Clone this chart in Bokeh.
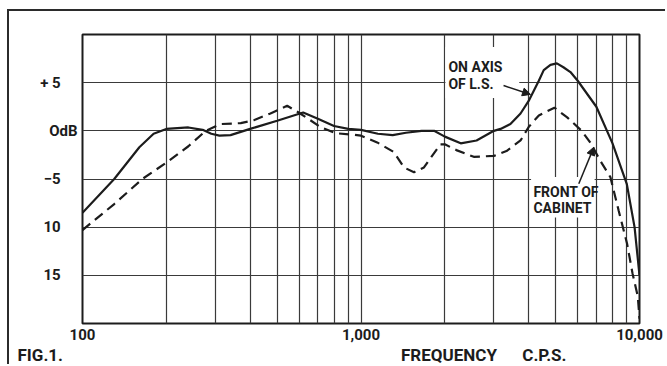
from bokeh.plotting import figure
from bokeh.models import (Range1d, FixedTicker, Label, Arrow, NormalHead, BoxAnnotation, Title)
from bokeh.embed import file_html
from bokeh.resources import INLINE

# ---- data ----
freq_on = [100, 130, 160, 180, 200, 240, 270, 290, 310, 340, 400, 500, 620, 700, 800,
           900, 1000, 1150, 1300, 1450, 1650, 1830, 2000, 2280, 2600, 3000, 3170, 3440,
           3740, 4000, 4350, 4530, 4790, 5050, 5330, 5650, 6000, 7000, 8000, 9000, 9600, 10000]
db_on = [-8.5, -5.0, -1.7, -0.3, 0.2, 0.35, 0.1, -0.3, -0.5, -0.45, 0.2, 1.05, 1.9, 1.25, 0.5,
         0.2, 0.1, -0.3, -0.45, -0.2, 0.0, 0.0, -0.6, -1.3, -1.0, 0.0, 0.2, 0.7,
         1.8, 3.1, 5.2, 6.3, 6.85, 7.0, 6.6, 6.1, 5.2, 2.5, -1.3, -5.5, -10.0, -15.0]

freq_front = [100, 130, 164, 200, 240, 277, 312, 370, 412, 473, 543, 597, 658, 715, 811,
              941, 1000, 1143, 1312, 1426, 1550, 1683, 1800, 1928, 2000, 2200, 2540, 3000,
              3330, 3740, 4000, 4350, 4950, 5500, 6200, 6650, 7230, 7860, 8420, 9020, 9440,
              9860, 10000]
db_front = [-10.3, -7.6, -5.0, -3.3, -1.6, 0.0, 0.7, 0.8, 1.1, 1.8, 2.6, 1.9, 1.1, 0.4, -0.25,
            -0.4, -0.5, -1.2, -2.2, -3.8, -4.3, -3.8, -2.6, -1.4, -1.4, -2.0, -2.7, -2.6,
            -2.1, -1.0, 0.4, 1.6, 2.4, 1.4, 0.0, -1.2, -3.1, -4.8, -8.3, -11.7, -14.8,
            -17.2, -19.5]

grid_freqs = [100, 200, 300, 400, 500, 600, 700, 800, 900,
              1000, 2000, 3000, 4000, 5000, 6000, 7000, 8000, 9000, 10000]
x_ticks = [100, 1000, 10000]
x_tick_labels = ["100", "1,000", "10,000"]
y_ticks = [-15, -10, -5, 0, 5]
y_tick_labels = ["15", "10", "\u22125", "OdB", "+ 5"]
grid_db = [-15, -10, -5, 0, 5]

FONT = "Roboto"
INK = "#1c1c1c"
FIG_SP = "\u2007"   # figure space, keeps short y labels clear of the axis like the original
NBSP = "\u00a0"

p = figure(width=658, height=355, x_axis_type="log",
           x_range=Range1d(100, 10000), y_range=Range1d(-20, 10),
           output_backend="svg", toolbar_location=None, title=None,
           min_border_left=73, min_border_top=23, min_border_right=28, min_border_bottom=43,
           styles={"margin-left": "7px", "margin-top": "9px",
                   "border-left": "2px solid #2b2b2b", "border-top": "2px solid #2b2b2b"})
p.background_fill_color = "white"
p.border_fill_color = "white"
p.outline_line_color = INK
p.outline_line_width = 2

p.xgrid.ticker = FixedTicker(ticks=grid_freqs)
p.ygrid.ticker = FixedTicker(ticks=grid_db)
for g in (p.xgrid, p.ygrid):
    g.grid_line_color = "#3a3a3a"
    g.grid_line_width = 1.2
    g.grid_line_alpha = 1.0

p.xaxis.ticker = FixedTicker(ticks=x_ticks)
p.xaxis.major_label_overrides = {t: l for t, l in zip(x_ticks, x_tick_labels)}
p.yaxis.ticker = FixedTicker(ticks=y_ticks)
p.yaxis.major_label_overrides = {t: (l if l == "OdB" else l + FIG_SP * 2)
                                 for t, l in zip(y_ticks, y_tick_labels)}
for ax in (p.xaxis, p.yaxis):
    ax.axis_line_color = None
    ax.major_tick_line_color = None
    ax.minor_tick_line_color = None
    ax.major_tick_out = 0
    ax.major_tick_in = 0
    ax.major_label_text_font = FONT
    ax.major_label_text_font_style = "bold"
    ax.major_label_text_color = INK
    ax.major_label_text_font_size = "15px"
p.xaxis.major_label_standoff = 5
p.yaxis.major_label_standoff = 5

# bottom caption line: "FIG.1." at left, "FREQUENCY  C.P.S." under the right half
caption = Title(text="FIG.1." + NBSP * 80 + "FREQUENCY" + NBSP * 6 + "C.P.S.",
                align="left", offset=-65, standoff=0,
                text_font=FONT, text_font_style="bold", text_font_size="17px",
                text_color=INK)
p.add_layout(caption, "below")

# white boxes behind annotations
p.add_layout(BoxAnnotation(left=2010, right=3700, top=8.7, bottom=3.4,
                           fill_color="white", fill_alpha=1.0, line_alpha=0))
p.add_layout(BoxAnnotation(left=4080, right=6900, top=-4.8, bottom=-9.0,
                           fill_color="white", fill_alpha=1.0, line_alpha=0))

p.line(freq_on, db_on, line_color=INK, line_width=2.2)
p.line(freq_front, db_front, line_color=INK, line_width=2.2, line_dash="10 6")

def lab(x, y, text, size="14px"):
    p.add_layout(Label(x=x, y=y, text=text, text_font=FONT, text_font_style="bold",
                       text_font_size=size, text_color=INK, text_align="left",
                       text_baseline="middle"))

lab(2061, 6.61, "ON  AXIS")
lab(2061, 4.89, "OF L.S.")
lab(4159, -6.36, "FRONT OF")
lab(4159, -7.98, "CABINET")

p.add_layout(Arrow(end=NormalHead(size=8, fill_color=INK, line_color=INK),
                   x_start=3250, y_start=4.7, x_end=4062, y_end=3.78,
                   line_color=INK, line_width=1.5))
p.add_layout(Arrow(end=NormalHead(size=8, fill_color=INK, line_color=INK),
                   x_start=6053, y_start=-5.49, x_end=6860, y_end=-1.69,
                   line_color=INK, line_width=1.5))

open("out.html", "w").write(file_html(p, INLINE))
